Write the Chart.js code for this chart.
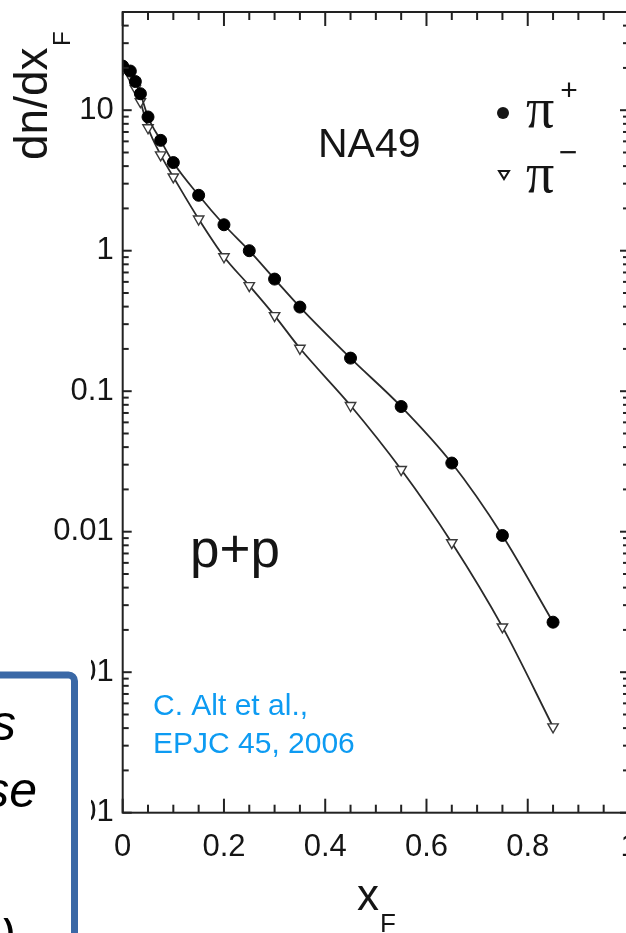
<!DOCTYPE html>
<html>
<head>
<meta charset="utf-8">
<script src="https://cdn.jsdelivr.net/npm/chart.js@4"></script>
<style>
  html, body { margin: 0; padding: 0; background: #fff; overflow: hidden; }
  #wrap { width: 626px; height: 933px; overflow: hidden; }
</style>
</head>
<body>
<div id="wrap"><canvas id="myChart" width="640" height="933"></canvas></div>
<script>
// xF bins and dn/dxF for pi+ and pi- (p+p, NA49)
const xF = [0, 0.015, 0.025, 0.035, 0.05, 0.075, 0.1, 0.15, 0.2, 0.25, 0.3, 0.35, 0.45, 0.55, 0.65, 0.75, 0.85];
const piPlus = [20.6, 19.0, 16.0, 13.1, 8.95, 6.1, 4.24, 2.48, 1.53, 1.0, 0.628, 0.397, 0.172, 0.0778, 0.0308, 0.0094, 0.00227];
const piMinus = [19.5, 17.5, 14.3, 11.5, 7.5, 4.81, 3.35, 1.68, 0.906, 0.564, 0.345, 0.202, 0.0791, 0.0277, 0.00835, 0.0021, 0.000408];

const yDecades = [0.0001, 0.001, 0.01, 0.1, 1, 10];
const xTicks = [0, 0.2, 0.4, 0.6, 0.8, 1];

const sans = "'Liberation Sans', Arial, sans-serif";
const ink = '#151515';

function pts(ys) {
  return xF.map((v, i) => ({ x: v, y: ys[i] }));
}

// no extra room for end labels, the frame is placed by layout padding only
function noPad(s) {
  s.paddingTop = 0;
  s.paddingBottom = 0;
  s.paddingLeft = 0;
  s.paddingRight = 0;
}

// frame, inward ticks, labels and the overlapping slide box
const extras = {
  id: 'extras',
  afterDraw(chart) {
    const { ctx, chartArea: a, scales: { x, y } } = chart;
    ctx.save();
    ctx.strokeStyle = '#222';
    ctx.lineWidth = 2;
    ctx.strokeRect(a.left, a.top, a.right - a.left, a.bottom - a.top);

    const seg = (x1, y1, x2, y2) => { ctx.beginPath(); ctx.moveTo(x1, y1); ctx.lineTo(x2, y2); ctx.stroke(); };

    for (let i = 0; i <= 20; i++) {
      const px = x.getPixelForValue(i * 0.05);
      const len = i % 4 === 0 ? 14 : 8;
      seg(px, a.bottom, px, a.bottom - len);
      seg(px, a.top, px, a.top + len);
    }
    for (let e = -4; e <= 1; e++) {
      for (let m = 1; m <= 9; m++) {
        const v = m * Math.pow(10, e);
        if (v > y.max) break;
        const py = y.getPixelForValue(v);
        const len = m === 1 ? 9 : 6;
        seg(a.left, py, a.left + len, py);
        seg(a.right, py, a.right - len, py);
      }
    }

    ctx.fillStyle = ink;
    ctx.textAlign = 'left';
    ctx.textBaseline = 'alphabetic';

    // axis titles
    ctx.save();
    ctx.translate(47, 160);
    ctx.rotate(-Math.PI / 2);
    ctx.font = '46px ' + sans;
    ctx.fillText('dn/dx', 0, 0);
    ctx.font = '24px ' + sans;
    ctx.fillText('F', 114, 23);
    ctx.restore();

    ctx.font = '44px ' + sans;
    ctx.fillText('x', 357, 910);
    ctx.font = '26px ' + sans;
    ctx.fillText('F', 380, 932);

    ctx.font = '41px ' + sans;
    ctx.fillText('NA49', 318, 157);

    // legend
    ctx.beginPath();
    ctx.arc(503, 113, 6, 0, Math.PI * 2);
    ctx.fill();
    ctx.beginPath();
    ctx.moveTo(499, 171); ctx.lineTo(509, 171); ctx.lineTo(504, 179); ctx.closePath();
    ctx.strokeStyle = ink;
    ctx.lineWidth = 2;
    ctx.stroke();
    ctx.font = "56px 'Liberation Serif', 'Times New Roman', serif";
    ctx.fillText('π', 526, 127);
    ctx.fillText('π', 526, 192);
    ctx.textAlign = 'center';
    ctx.textBaseline = 'middle';
    ctx.font = '30px ' + sans;
    ctx.fillText('+', 569, 92);
    ctx.font = '32px ' + sans;
    ctx.fillText('−', 568, 154);

    ctx.textAlign = 'left';
    ctx.textBaseline = 'alphabetic';
    ctx.font = '53px ' + sans;
    ctx.fillText('p+p', 190, 567);

    ctx.fillStyle = '#0d9bf2';
    ctx.font = '30px ' + sans;
    ctx.fillText('C. Alt et al.,', 153, 715);
    ctx.fillText('EPJC 45, 2006', 153, 753);

    // slide text box on top of the lower-left corner
    ctx.fillStyle = '#fff';
    ctx.fillRect(0, 652, 91, 300);
    ctx.strokeStyle = '#3a68a6';
    ctx.lineWidth = 7;
    ctx.beginPath();
    ctx.moveTo(-10, 675);
    ctx.lineTo(68, 675);
    ctx.arcTo(74.5, 675, 74.5, 682, 6);
    ctx.lineTo(74.5, 960);
    ctx.stroke();
    ctx.fillStyle = '#000';
    ctx.textAlign = 'right';
    ctx.font = 'italic 50px ' + sans;
    ctx.fillText('s', 16, 740);
    ctx.fillText('se', 37, 807);
    ctx.fillText(')', 16, 954);
    ctx.restore();
  }
};

const ctx = document.getElementById('myChart');
new Chart(ctx, {
  type: 'scatter',
  data: {
    datasets: [
      {
        label: 'π+',
        data: pts(piPlus),
        showLine: true,
        cubicInterpolationMode: 'monotone',
        borderColor: '#2a2a2a',
        borderWidth: 1.8,
        pointStyle: 'circle',
        pointRadius: 6,
        pointBackgroundColor: '#000',
        pointBorderColor: '#000',
        pointBorderWidth: 1
      },
      {
        label: 'π−',
        data: pts(piMinus),
        showLine: true,
        cubicInterpolationMode: 'monotone',
        borderColor: '#2a2a2a',
        borderWidth: 1.8,
        pointStyle: 'triangle',
        rotation: 180,
        pointRadius: 6,
        pointBackgroundColor: '#fff',
        pointBorderColor: '#3a3a3a',
        pointBorderWidth: 1.4
      }
    ]
  },
  options: {
    responsive: false,
    animation: false,
    layout: { padding: { top: 12, right: 11, left: 0, bottom: 0 } },
    plugins: { legend: { display: false }, tooltip: { enabled: false } },
    scales: {
      x: {
        type: 'linear',
        min: 0,
        max: 1,
        afterFit: s => { s.height = 120.3; noPad(s); },
        afterBuildTicks: s => { s.ticks = xTicks.map(v => ({ value: v })); },
        grid: { display: false, drawTicks: false },
        border: { display: false },
        ticks: {
          autoSkip: false,
          maxRotation: 0,
          padding: 16,
          color: ink,
          font: { family: sans, size: 31 },
          callback: v => String(Math.round(v * 10) / 10)
        }
      },
      y: {
        type: 'logarithmic',
        min: 0.0001,
        max: 50,
        afterFit: s => { s.width = 122.7; noPad(s); },
        afterBuildTicks: s => { s.ticks = yDecades.map(v => ({ value: v })); },
        grid: { display: false, drawTicks: false },
        border: { display: false },
        ticks: {
          autoSkip: false,
          padding: 9,
          color: ink,
          font: { family: sans, size: 31 },
          callback: v => String(v)
        }
      }
    }
  },
  plugins: [extras]
});
</script>
</body>
</html>
